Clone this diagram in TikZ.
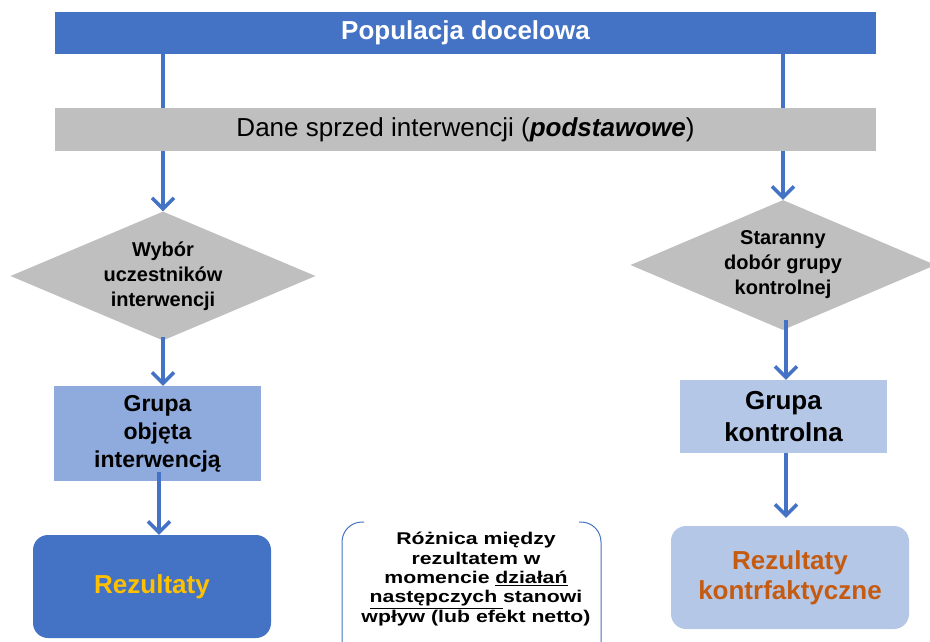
\documentclass[tikz,border=0pt]{standalone}
\usepackage{fontspec}
\setmainfont{Liberation Sans}
\newfontfamily\widefont[FakeStretch=1.25]{Liberation Sans}
\usetikzlibrary{shapes.geometric,arrows.meta}
\definecolor{popblue}{HTML}{4472C4}
\definecolor{graybox}{HTML}{BFBFBF}
\definecolor{grpblue}{HTML}{8FAADC}
\definecolor{ctlblue}{HTML}{B4C7E7}
\definecolor{goldtxt}{HTML}{FFC000}
\definecolor{orangetxt}{HTML}{C55A11}
\begin{document}
\begin{tikzpicture}[x=1pt,y=-1pt,
    arr/.style={draw=popblue,line width=3.5pt,-{Straight Barb[length=11pt,width=22pt]}},
    bar/.style={minimum width=821pt,minimum height=42pt,inner sep=0pt},
    choice/.style={diamond,aspect=2.36,fill=graybox,minimum width=305pt,minimum height=129pt,inner sep=0pt,
      align=center,font=\fontsize{20}{25}\selectfont\bfseries},
    grp/.style={minimum width=207pt,inner sep=0pt,align=center},
    res/.style={rounded corners=15pt,minimum width=238pt,minimum height=103pt,inner sep=0pt,
      align=center,font=\fontsize{26}{30}\selectfont\bfseries}]
  \useasboundingbox (0,0) rectangle (930,641);
  \node[bar,fill=popblue,text=white,font=\fontsize{26}{30}\selectfont\bfseries] (pop) at (465.5,33) {Populacja docelowa};
  \node[choice] (selL) at (163,276) {Wybór\\uczestników\\interwencji};
  \node[choice,minimum height=130pt] (selR) at (783,265) {Staranny\\dobór grupy\\kontrolnej};
  \draw[arr] (pop.south -| selL.north) -- (selL.north);
  \draw[arr] (pop.south -| selR.north) -- (selR.north);
  \node[bar,minimum height=43pt,fill=graybox,font=\fontsize{26}{30}\selectfont] (base) at (465.5,129.5)
    {Dane sprzed interwencji (\textbf{\textit{podstawowe}})};
  \node[grp,fill=grpblue,minimum height=95pt,font=\fontsize{23}{28}\selectfont\bfseries] (grpL) at (157.5,433.5)
    {Grupa\\objęta\\interwencją};
  \node[grp,fill=ctlblue,minimum height=73pt,font=\fontsize{26}{32}\selectfont\bfseries] (grpR) at (783.5,416.5)
    {Grupa\\kontrolna};
  \node[res,fill=popblue,text=goldtxt] (resL) at (152,586.5) {Rezultaty};
  \node[res,fill=ctlblue,text=orangetxt] (resR) at (790,577.5) {Rezultaty\\kontrfaktyczne};
  \draw[arr] ([yshift=4pt]selL.south) -- (grpL.north -| selL.south);
  \draw[arr] ([xshift=1.5pt,yshift=9pt]grpL.south) -- ([xshift=7pt]resL.north);
  \draw[arr] ([xshift=3pt,yshift=10pt]selR.south) -- ([xshift=2.5pt]grpR.north);
  \draw[arr] ([xshift=2.5pt]grpR.south) -- ([xshift=-4pt,yshift=8pt]resR.north);
  \node[font=\widefont\fontsize{17}{19.3}\selectfont\bfseries,align=center] (diff) at (476,579)
    {Różnica między\\rezultatem w\\momencie \underline{działań}\\\underline{następczych }stanowi\\wpływ (lub efekt netto)};
  \draw[popblue,line width=1pt,rounded corners=20pt] (364,522) -- (342,522) -- (342,660);
  \draw[popblue,line width=1pt,rounded corners=20pt] (579,522) -- (601,522) -- (601,660);
\end{tikzpicture}
\end{document}
